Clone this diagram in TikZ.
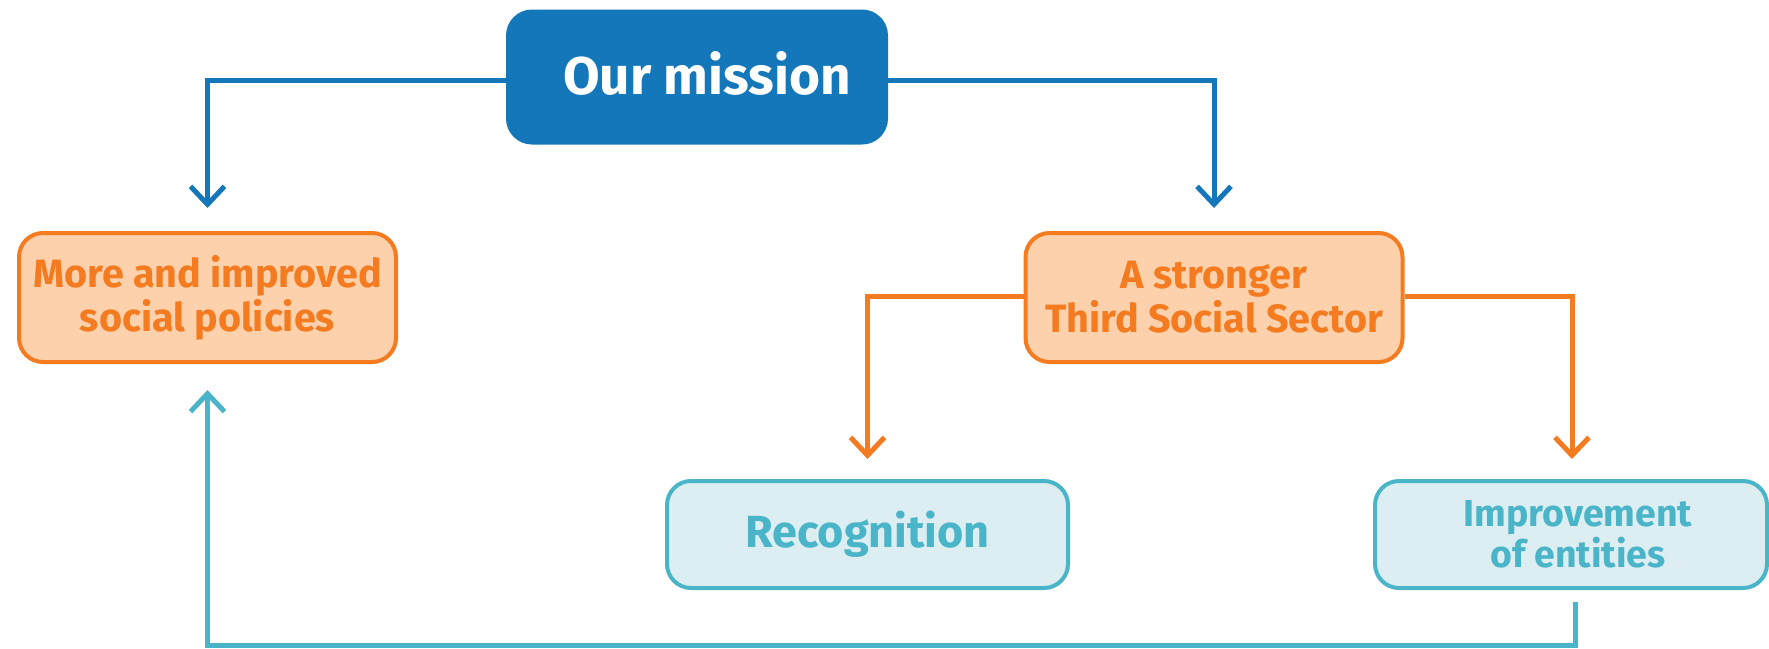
\documentclass[tikz,border=0pt]{standalone}
\usepackage{fontspec}
\setmainfont{Fira Sans}
\usetikzlibrary{arrows.meta}
\definecolor{mblue}{HTML}{1477BA}
\definecolor{morange}{HTML}{F47B20}
\definecolor{morangefill}{HTML}{FCD1AC}
\definecolor{mteal}{HTML}{4AB5C8}
\definecolor{mtealfill}{HTML}{DCEEF2}
\begin{document}
\begin{tikzpicture}[x=1pt,y=-1pt,
  box/.style={rounded corners=24pt, line width=4pt, align=center, inner sep=0pt, font=\bfseries},
  missionbox/.style={box, fill=mblue, draw=mblue, minimum width=378pt, minimum height=131pt},
  orangebox/.style={box, fill=morangefill, draw=morange, text=morange, minimum width=377pt, minimum height=129pt,
     font=\bfseries\fontsize{39.5}{44}\selectfont},
  tealbox/.style={box, fill=mtealfill, draw=mteal, text=mteal, minimum height=107pt},
  conn/.style={line width=5pt, -{Straight Barb[length=18pt,width=34pt,line width=5pt]}}
]
\useasboundingbox (0,0) rectangle (1769,648);
\node[missionbox] (mission) at (697,77) {};
\node[text=white, font=\bfseries\fontsize{53}{60}\selectfont, inner sep=0pt] (missionlabel) at (707,73) {Our mission};
\node[orangebox] (policies) at (207.5,297.5) {More and improved\\social policies};
\node[orangebox] (sector) at (1214,297.5) {A stronger\\Third Social Sector};
\node[tealbox, minimum width=401pt, font=\bfseries\fontsize{45}{52}\selectfont] (recog) at (867.5,534.5) {Recognition};
\node[tealbox, minimum width=392pt, font=\bfseries\fontsize{37.5}{41}\selectfont] (improve) at (1571,534.5) {\hspace*{14pt}Improvement\\\hspace*{14pt}of entities};
\coordinate (bottom) at (0,645);
\draw[conn, mblue] ([yshift=-3pt]mission.west) -| ([yshift=23pt]policies.north);
\draw[conn, mblue] ([yshift=-3pt]mission.east) -| ([yshift=23pt]sector.north);
\draw[conn, morange] ([yshift=1pt]sector.west) -| ([yshift=20pt]recog.north);
\draw[conn, morange] ([yshift=1pt]sector.east) -| ([xshift=1pt,yshift=20pt]improve.north);
\draw[conn, mteal] ([xshift=4pt,yshift=-12pt]improve.south) |- (bottom -| policies.south) -- ([yshift=-26pt]policies.south);
\end{tikzpicture}
\end{document}
